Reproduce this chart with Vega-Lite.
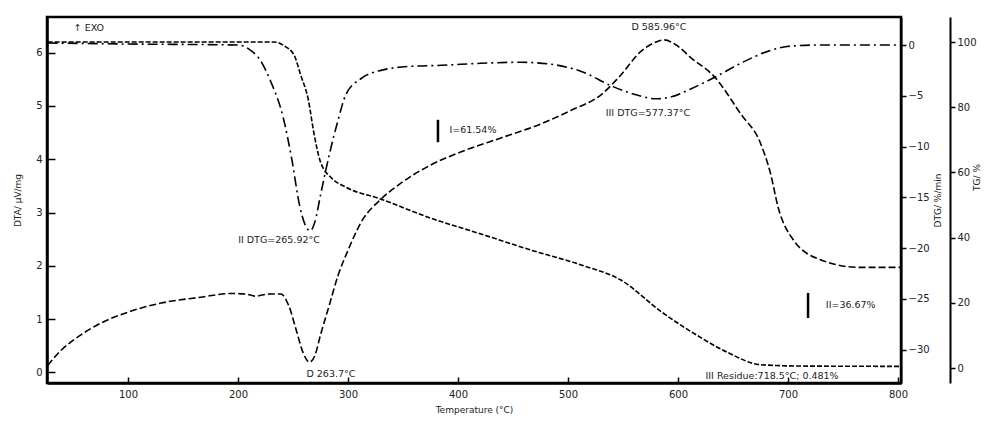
{
  "$schema": "https://vega.github.io/schema/vega-lite/v6.json",
  "width": 854,
  "height": 366,
  "autosize": {"type": "none"},
  "padding": {"left": 47, "top": 17, "right": 83, "bottom": 42},
  "background": "white",
  "config": {
    "view": {"stroke": "black", "strokeWidth": 2.5},
    "font": "DejaVu Sans",
    "axis": {
      "grid": false,
      "domainColor": "black",
      "domainWidth": 2,
      "tickColor": "black",
      "tickWidth": 1.5,
      "labelFont": "DejaVu Sans",
      "labelFontSize": 10,
      "labelColor": "#222",
      "titleFont": "DejaVu Sans",
      "titleFontSize": 9,
      "titleFontWeight": "normal",
      "titleColor": "#222"
    }
  },
  "datasets": {
    "dta": [
      {"T": 27, "v": 0.13}, {"T": 39, "v": 0.41}, {"T": 57, "v": 0.70}, {"T": 75, "v": 0.92},
      {"T": 100, "v": 1.13}, {"T": 130, "v": 1.30}, {"T": 166, "v": 1.41}, {"T": 194, "v": 1.48},
      {"T": 207, "v": 1.47}, {"T": 216, "v": 1.43}, {"T": 228, "v": 1.47}, {"T": 239, "v": 1.47},
      {"T": 246, "v": 1.26}, {"T": 253, "v": 0.79}, {"T": 259, "v": 0.38}, {"T": 265, "v": 0.19},
      {"T": 270, "v": 0.32}, {"T": 275, "v": 0.70}, {"T": 283, "v": 1.26}, {"T": 291, "v": 1.82},
      {"T": 300, "v": 2.29}, {"T": 312, "v": 2.82}, {"T": 330, "v": 3.25}, {"T": 348, "v": 3.55},
      {"T": 375, "v": 3.89}, {"T": 403, "v": 4.14}, {"T": 439, "v": 4.40}, {"T": 475, "v": 4.66},
      {"T": 503, "v": 4.92}, {"T": 530, "v": 5.21}, {"T": 548, "v": 5.58}, {"T": 566, "v": 6.02},
      {"T": 580, "v": 6.20}, {"T": 587, "v": 6.24}, {"T": 598, "v": 6.15}, {"T": 612, "v": 5.90},
      {"T": 633, "v": 5.55}, {"T": 657, "v": 4.85}, {"T": 675, "v": 4.30}, {"T": 684, "v": 3.74},
      {"T": 691, "v": 3.10}, {"T": 705, "v": 2.48}, {"T": 730, "v": 2.11}, {"T": 765, "v": 1.97},
      {"T": 803, "v": 1.97}
    ],
    "dtg": [
      {"T": 27, "v": 0.2}, {"T": 100, "v": 0.1}, {"T": 200, "v": 0.0}, {"T": 210, "v": -0.4},
      {"T": 222, "v": -1.8}, {"T": 229, "v": -3.4}, {"T": 241, "v": -7.1}, {"T": 249, "v": -11.3},
      {"T": 256, "v": -15.8}, {"T": 261, "v": -17.7}, {"T": 265.5, "v": -18.3}, {"T": 270, "v": -17.4},
      {"T": 275, "v": -14.8}, {"T": 283, "v": -10.8}, {"T": 291, "v": -7.4}, {"T": 298, "v": -4.9},
      {"T": 312, "v": -3.3}, {"T": 330, "v": -2.5}, {"T": 357, "v": -2.1}, {"T": 385, "v": -2.0},
      {"T": 421, "v": -1.8}, {"T": 457, "v": -1.7}, {"T": 485, "v": -1.9}, {"T": 512, "v": -2.6},
      {"T": 541, "v": -4.1}, {"T": 562, "v": -4.9}, {"T": 580, "v": -5.3}, {"T": 594, "v": -5.1},
      {"T": 612, "v": -4.3}, {"T": 633, "v": -3.2}, {"T": 657, "v": -1.8}, {"T": 685, "v": -0.5},
      {"T": 703, "v": -0.1}, {"T": 730, "v": 0.0}, {"T": 803, "v": 0.0}
    ],
    "tg": [
      {"T": 27, "v": 100}, {"T": 233, "v": 100}, {"T": 242, "v": 98.8}, {"T": 251, "v": 96.0},
      {"T": 257, "v": 89.9}, {"T": 264, "v": 82.2}, {"T": 269, "v": 72.1}, {"T": 275, "v": 63.2},
      {"T": 285, "v": 58.3}, {"T": 298, "v": 55.5}, {"T": 330, "v": 51.8}, {"T": 375, "v": 46.0},
      {"T": 421, "v": 41.1}, {"T": 466, "v": 36.2}, {"T": 512, "v": 31.6}, {"T": 548, "v": 27.0},
      {"T": 585, "v": 17.2}, {"T": 615, "v": 10.5}, {"T": 645, "v": 4.8}, {"T": 675, "v": 1.0},
      {"T": 712, "v": 0.6}, {"T": 803, "v": 0.5}
    ],
    "notes": [
      {"T": 64.5, "v": 6.47, "label": "↑ EXO"},
      {"T": 237.3, "v": 2.48, "label": "II DTG=265.92°C"},
      {"T": 284.5, "v": -0.04, "label": "D 263.7°C"},
      {"T": 582.7, "v": 6.48, "label": "D 585.96°C"},
      {"T": 572.7, "v": 4.87, "label": "III DTG=577.37°C"},
      {"T": 413.6, "v": 4.55, "label": "I=61.54%"},
      {"T": 757, "v": 1.26, "label": "II=36.67%"},
      {"T": 685.5, "v": -0.06, "label": "III Residue:718.5°C; 0.481%"}
    ],
    "bars": [
      {"T": 381.8, "v": 4.74, "v2": 4.32},
      {"T": 718.2, "v": 1.49, "v2": 1.02}
    ]
  },
  "encoding": {
    "x": {
      "field": "T",
      "type": "quantitative",
      "scale": {"domain": [26.4, 802.7], "nice": false, "zero": false},
      "axis": {
        "values": [100, 200, 300, 400, 500, 600, 700, 800],
        "title": "Temperature (°C)",
        "tickSize": -6,
        "labelPadding": 12,
        "titlePadding": 6,
        "domainWidth": 2.5
      }
    }
  },
  "layer": [
    {
      "data": {"name": "dta"},
      "mark": {"type": "line", "stroke": "black", "strokeWidth": 1.6, "strokeDash": [7, 3], "interpolate": "monotone"},
      "encoding": {
        "y": {
          "field": "v",
          "type": "quantitative",
          "scale": {"domain": [-0.2, 6.67], "nice": false, "zero": false},
          "axis": {
            "orient": "left",
            "values": [0, 1, 2, 3, 4, 5, 6],
            "title": "DTA/ μV/mg",
            "tickSize": -8,
            "labelPadding": 13,
            "titlePadding": 13,
            "domainWidth": 2.5
          }
        }
      }
    },
    {
      "data": {"name": "dtg"},
      "mark": {"type": "line", "stroke": "black", "strokeWidth": 1.6, "strokeDash": [10, 4, 2, 4], "interpolate": "monotone"},
      "encoding": {
        "y": {
          "field": "v",
          "type": "quantitative",
          "scale": {"domain": [-33.3, 2.76], "nice": false, "zero": false},
          "axis": {
            "orient": "right",
            "values": [0, -5, -10, -15, -20, -25, -30],
            "title": "DTG/ %/min",
            "titleAngle": 270,
            "tickSize": 5,
            "labelPadding": 2,
            "titlePadding": 13
          }
        }
      }
    },
    {
      "data": {"name": "tg"},
      "mark": {"type": "line", "stroke": "black", "strokeWidth": 1.6, "strokeDash": [5, 2], "interpolate": "monotone"},
      "encoding": {
        "y": {
          "field": "v",
          "type": "quantitative",
          "scale": {"domain": [-4.6, 107.67], "nice": false, "zero": false},
          "axis": {
            "orient": "right",
            "offset": 49,
            "values": [0, 20, 40, 60, 80, 100],
            "title": "TG/ %",
            "titleAngle": 270,
            "titleY": 160,
            "tickSize": 5,
            "labelPadding": 2,
            "titlePadding": 5
          }
        }
      }
    },
    {
      "data": {"name": "notes"},
      "mark": {"type": "text", "fontSize": 9.5, "color": "#222", "align": "center", "baseline": "middle"},
      "encoding": {
        "y": {"field": "v", "type": "quantitative", "scale": {"domain": [-0.2, 6.67], "nice": false, "zero": false}, "axis": null},
        "text": {"field": "label"}
      }
    },
    {
      "data": {"name": "bars"},
      "mark": {"type": "rule", "stroke": "black", "strokeWidth": 2.5},
      "encoding": {
        "y": {"field": "v", "type": "quantitative", "scale": {"domain": [-0.2, 6.67], "nice": false, "zero": false}, "axis": null},
        "y2": {"field": "v2"}
      }
    }
  ],
  "resolve": {"scale": {"y": "independent"}}
}
